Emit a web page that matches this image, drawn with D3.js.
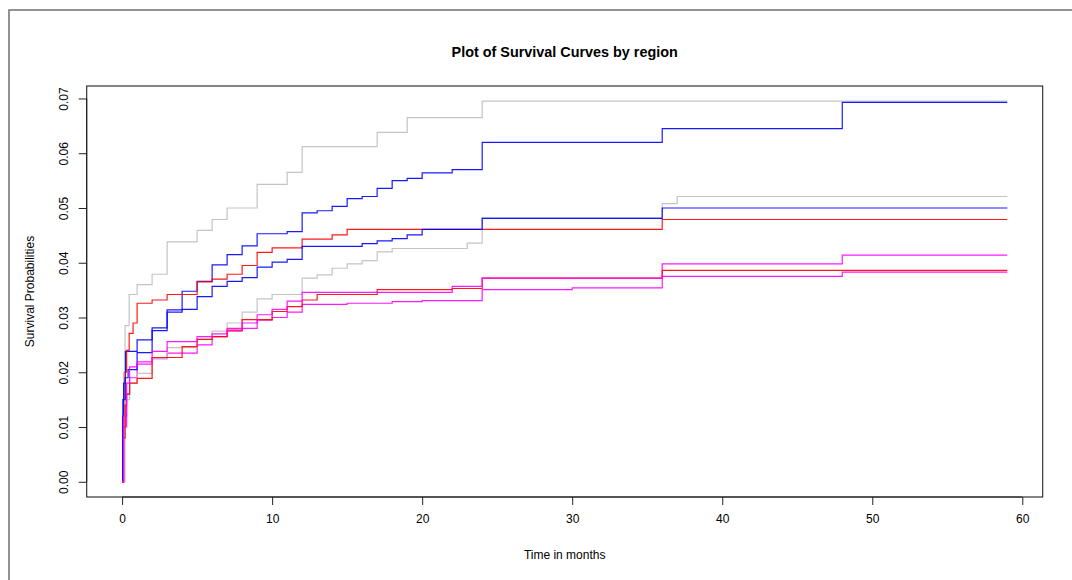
<!DOCTYPE html>
<html>
<head>
<meta charset="utf-8">
<script src="https://cdn.jsdelivr.net/npm/d3@7"></script>
<style>
  html, body { margin: 0; padding: 0; background: #fff; }
  svg { display: block; }
  text { font-family: "Liberation Sans", Arial, Helvetica, sans-serif; fill: #000; }
</style>
</head>
<body>
<svg id="chart" width="1072" height="580"></svg>
<script>
// Kaplan-Meier style cumulative curves, one per region group.
// Each curve: event times (months) and the cumulative probability after that time.
const greyA_t = [0, 0.05, 0.1, 0.2, 0.47, 1, 2, 3, 5, 6, 7, 9, 11, 12, 17, 19, 24, 59];
const greyA_v = [0, 0.012, 0.02, 0.0285, 0.0342, 0.036, 0.0379, 0.0438, 0.0459, 0.0479, 0.05, 0.0543, 0.0565, 0.0612, 0.0638, 0.0665, 0.0695, 0.0695];

const blueA_t = [0, 0.05, 0.1, 0.22, 1, 2, 3, 4, 5, 6, 7, 8, 9, 11, 12, 13, 14, 15, 16, 17, 18, 19, 20, 22, 24, 36, 48, 59];
const blueA_v = [0, 0.012, 0.018, 0.0238, 0.0259, 0.0281, 0.0314, 0.0348, 0.0366, 0.0396, 0.0415, 0.0431, 0.0453, 0.0457, 0.0491, 0.0495, 0.0503, 0.0517, 0.0521, 0.0536, 0.055, 0.0554, 0.0564, 0.057, 0.062, 0.0645, 0.0693, 0.0693];

const redA_t = [0, 0.1, 0.2, 0.3, 0.47, 0.73, 1, 2, 3, 5, 6, 7, 8, 9, 10, 12, 14, 15, 36, 59];
const redA_v = [0, 0.01, 0.02, 0.024, 0.0271, 0.029, 0.0326, 0.0332, 0.0342, 0.0365, 0.037, 0.0379, 0.0395, 0.0419, 0.0427, 0.0443, 0.0451, 0.0461, 0.0479, 0.0479];

const magentaA_t = [0, 0.1, 0.3, 0.5, 1, 2, 3, 5, 6, 7, 8, 9, 10, 11, 12, 15, 18, 20, 24, 30, 36, 48, 59];
const magentaA_v = [0, 0.01, 0.016, 0.019, 0.0215, 0.0225, 0.0235, 0.025, 0.0265, 0.0275, 0.028, 0.0295, 0.03, 0.031, 0.0324, 0.0326, 0.0329, 0.0331, 0.0351, 0.0354, 0.0398, 0.0414, 0.0414];

const greyB_t = [0, 0.2, 0.5, 1, 2, 3, 5, 6, 7, 8, 9, 10, 12, 13, 14, 15, 16, 17, 18, 23, 24, 36, 37, 59];
const greyB_v = [0, 0.015, 0.018, 0.0198, 0.0225, 0.0245, 0.026, 0.0275, 0.029, 0.031, 0.0334, 0.0342, 0.0372, 0.0378, 0.039, 0.0398, 0.0404, 0.042, 0.0426, 0.0436, 0.0482, 0.0508, 0.0521, 0.0521];

const blueB_t = [0, 0.05, 0.2, 0.4, 1, 2, 3, 4, 5, 6, 7, 8, 9, 10, 11, 12, 16, 17, 18, 19, 20, 24, 36, 59];
const blueB_v = [0, 0.015, 0.019, 0.0205, 0.0236, 0.0276, 0.031, 0.0315, 0.0338, 0.0357, 0.0366, 0.0373, 0.0392, 0.0401, 0.0406, 0.043, 0.0435, 0.044, 0.0444, 0.0451, 0.0461, 0.0481, 0.05, 0.05];

const redB_t = [0, 0.1, 0.2, 0.3, 0.5, 1, 2, 4, 5, 6, 7, 8, 10, 11, 12, 13, 17, 22, 24, 36, 59];
const redB_v = [0, 0.008, 0.014, 0.016, 0.018, 0.0189, 0.0227, 0.0247, 0.026, 0.0265, 0.0277, 0.0296, 0.0311, 0.032, 0.0332, 0.0342, 0.0351, 0.0353, 0.0372, 0.0386, 0.0386];

const magentaB_t = [0, 0.1, 0.3, 0.5, 1, 2, 3, 5, 6, 7, 8, 9, 10, 11, 12, 22, 24, 36, 48, 59];
const magentaB_v = [0, 0.012, 0.018, 0.021, 0.0219, 0.0238, 0.0256, 0.0265, 0.027, 0.028, 0.029, 0.0305, 0.0315, 0.033, 0.0346, 0.0357, 0.0372, 0.0375, 0.0383, 0.0383];

const curveColors = ["#BEBEBE", "#0000FF", "#FF0000", "#FF00FF"];

const curves = [
  { t: greyA_t, v: greyA_v, color: curveColors[0] },
  { t: blueA_t, v: blueA_v, color: curveColors[1] },
  { t: redA_t, v: redA_v, color: curveColors[2] },
  { t: magentaA_t, v: magentaA_v, color: curveColors[3] },
  { t: greyB_t, v: greyB_v, color: curveColors[0] },
  { t: blueB_t, v: blueB_v, color: curveColors[1] },
  { t: redB_t, v: redB_v, color: curveColors[2] },
  { t: magentaB_t, v: magentaB_v, color: curveColors[3] }
];

const xTicks = [0, 10, 20, 30, 40, 50, 60];
const yTicks = [0, 0.01, 0.02, 0.03, 0.04, 0.05, 0.06, 0.07];

const titleText = "Plot of Survival Curves by region";
const xLabel = "Time in months";
const yLabel = "Survival Probabilities";

const svg = d3.select("#chart");
const W = 1072, H = 580;

// plot region
const box = { left: 86.7, right: 1042.7, top: 86, bottom: 497 };

// data ranges widened by 4% on each side
const tMax = d3.max(curves, c => d3.max(c.t));
const vMax = d3.max(curves, c => d3.max(c.v));
const x = d3.scaleLinear()
  .domain([-0.04 * tMax, 1.04 * tMax])
  .range([box.left, box.right]);
const y = d3.scaleLinear()
  .domain([-0.04 * vMax, 1.04 * vMax])
  .range([box.bottom, box.top]);

svg.append("rect").attr("width", W).attr("height", H).attr("fill", "#fff");

// outer device frame
svg.append("rect")
  .attr("x", 9).attr("y", 10)
  .attr("width", 1100).attr("height", 620)
  .attr("fill", "none").attr("stroke", "#777").attr("stroke-width", 1.6);

// curves
const line = d3.line()
  .x(d => x(d[0]))
  .y(d => y(d[1]))
  .curve(d3.curveStepAfter);

const gCurves = svg.append("g");
curves.forEach(c => {
  const pts = c.t.map((tt, i) => [tt, c.v[i]]);
  gCurves.append("path")
    .datum(pts)
    .attr("d", line)
    .attr("fill", "none")
    .attr("stroke", c.color)
    .attr("stroke-opacity", 0.9)
    .attr("stroke-width", 1.2);
});

// plot box
svg.append("rect")
  .attr("x", box.left).attr("y", box.top)
  .attr("width", box.right - box.left).attr("height", box.bottom - box.top)
  .attr("fill", "none").attr("stroke", "#222").attr("stroke-width", 1.1);

// x axis
const xAxis = d3.axisBottom(x).tickValues(xTicks).tickSize(8).tickPadding(9)
  .tickFormat(d3.format("d"));
const gx = svg.append("g").attr("transform", `translate(0,${box.bottom})`).call(xAxis);
gx.select(".domain").attr("d", `M${x(xTicks[0])},0H${x(xTicks[xTicks.length - 1])}`)
  .attr("stroke", "#222");
gx.selectAll(".tick line").attr("stroke", "#222");
gx.selectAll(".tick text").attr("font-size", 12).attr("fill", "#000")
  .style("font-family", "Liberation Sans, Arial, sans-serif");

// y axis (labels parallel to the axis)
const yAxis = d3.axisLeft(y).tickValues(yTicks).tickSize(8)
  .tickFormat(d3.format(".2f"));
const gy = svg.append("g").attr("transform", `translate(${box.left},0)`).call(yAxis);
gy.select(".domain").attr("d", `M0,${y(yTicks[0])}V${y(yTicks[yTicks.length - 1])}`)
  .attr("stroke", "#222");
gy.selectAll(".tick line").attr("stroke", "#222");
gy.selectAll(".tick text")
  .attr("x", null).attr("dy", null)
  .attr("text-anchor", "middle")
  .attr("dominant-baseline", "central")
  .attr("transform", "translate(-23,0) rotate(-90)")
  .attr("font-size", 12).attr("fill", "#000")
  .style("font-family", "Liberation Sans, Arial, sans-serif");

// titles
svg.append("text")
  .attr("x", (box.left + box.right) / 2).attr("y", 52)
  .attr("text-anchor", "middle").attr("dominant-baseline", "central")
  .attr("font-size", 14.4).attr("font-weight", "bold")
  .text(titleText);

svg.append("text")
  .attr("x", (box.left + box.right) / 2).attr("y", 555)
  .attr("text-anchor", "middle").attr("dominant-baseline", "central")
  .attr("font-size", 12)
  .text(xLabel);

svg.append("text")
  .attr("transform", `translate(30,${(box.top + box.bottom) / 2}) rotate(-90)`)
  .attr("text-anchor", "middle").attr("dominant-baseline", "central")
  .attr("font-size", 12)
  .text(yLabel);
</script>
</body>
</html>
